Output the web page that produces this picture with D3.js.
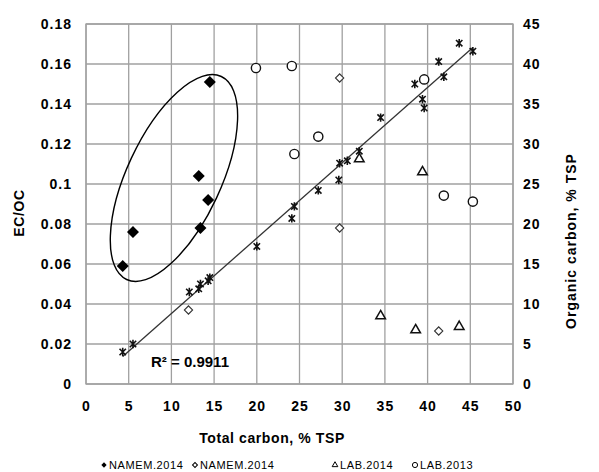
<!DOCTYPE html>
<html>
<head>
<meta charset="utf-8">
<script src="https://cdn.jsdelivr.net/npm/d3@7"></script>
<style>
  body { margin: 0; background: #fff; }
  svg text { font-family: "Liberation Sans", Arial, sans-serif; fill: #000; }
</style>
</head>
<body>
<div id="chart"></div>
<script>
// ticks
const xTicks = [0, 5, 10, 15, 20, 25, 30, 35, 40, 45, 50];
const yLeftTicks = [0, 0.02, 0.04, 0.06, 0.08, 0.1, 0.12, 0.14, 0.16, 0.18];
const yRightTicks = [0, 5, 10, 15, 20, 25, 30, 35, 40, 45];

// EC/OC vs total carbon, [TC, EC/OC]
const namem2014Filled = [[14.5, 0.151], [13.2, 0.104], [14.3, 0.092], [13.4, 0.078], [5.5, 0.076], [4.3, 0.059]];
const namem2014Open = [[29.7, 0.153], [12.0, 0.037], [29.7, 0.078], [41.3, 0.0265]];
const lab2014 = [[32.0, 0.1125], [39.4, 0.106], [34.5, 0.034], [38.6, 0.027], [43.7, 0.0287]];
const lab2013 = [[19.9, 0.158], [24.1, 0.159], [24.4, 0.115], [27.2, 0.1237], [39.6, 0.1523], [41.9, 0.0942], [45.3, 0.0912]];

// organic carbon vs total carbon, [TC, OC]
const ocPoints = [
  [4.3, 4.0], [5.5, 5.0], [12.1, 11.5], [13.2, 11.9], [13.4, 12.5], [14.3, 12.9], [14.5, 13.3],
  [20.0, 17.2], [24.1, 20.7], [24.4, 22.2], [27.2, 24.2], [29.6, 25.5], [29.7, 27.6], [30.6, 27.9],
  [32.0, 29.1], [34.5, 33.3], [38.5, 37.5], [39.4, 35.6], [39.6, 34.5], [41.3, 40.3], [41.9, 38.4],
  [43.7, 42.6], [45.3, 41.6],
];
const r2Label = 'R² = 0.9911';

const legendItems = ['NAMEM.2014', 'NAMEM.2014', 'LAB.2014', 'LAB.2013'];

// plot box
const margin = { top: 24, right: 86, bottom: 88, left: 86 };
const width = 599;
const height = 472;
const innerW = width - margin.left - margin.right;
const innerH = height - margin.top - margin.bottom;

const svg = d3.select('#chart')
  .append('svg')
  .attr('width', width)
  .attr('height', height);

const g = svg.append('g')
  .attr('transform', `translate(${margin.left},${margin.top})`);

const x = d3.scaleLinear().domain([0, 50]).range([0, innerW]);
const yL = d3.scaleLinear().domain([0, 0.18]).range([innerH, 0]);
const yR = d3.scaleLinear().domain([0, 45]).range([innerH, 0]);

const gridColor = '#a0a0a0';

// gridlines
g.append('g')
  .selectAll('line')
  .data(xTicks)
  .join('line')
  .attr('x1', d => x(d)).attr('x2', d => x(d))
  .attr('y1', 0).attr('y2', innerH)
  .attr('stroke', gridColor).attr('stroke-width', 1.3);

g.append('g')
  .selectAll('line')
  .data(yLeftTicks)
  .join('line')
  .attr('x1', 0).attr('x2', innerW)
  .attr('y1', d => yL(d)).attr('y2', d => yL(d))
  .attr('stroke', gridColor).attr('stroke-width', 1.3);

g.append('rect')
  .attr('width', innerW).attr('height', innerH)
  .attr('fill', 'none').attr('stroke', gridColor).attr('stroke-width', 1.3);

// axes (labels only)
const fmt = d => String(+d.toFixed(2));
const tickFont = sel => sel.selectAll('text')
  .attr('font-size', 14).attr('font-weight', 'bold').attr('letter-spacing', 1);

const axB = g.append('g')
  .attr('transform', `translate(0,${innerH})`)
  .call(d3.axisBottom(x).tickValues(xTicks).tickSize(0).tickPadding(17).tickFormat(fmt));
const axL = g.append('g')
  .call(d3.axisLeft(yL).tickValues(yLeftTicks).tickSize(0).tickPadding(14).tickFormat(fmt));
const axR = g.append('g')
  .attr('transform', `translate(${innerW},0)`)
  .call(d3.axisRight(yR).tickValues(yRightTicks).tickSize(0).tickPadding(10).tickFormat(fmt));
[axB, axL, axR].forEach(a => {
  a.select('.domain').remove();
  a.call(tickFont);
});

// axis titles
svg.append('text')
  .attr('x', 272).attr('y', 443)
  .attr('text-anchor', 'middle')
  .attr('font-size', 14).attr('font-weight', 'bold').attr('letter-spacing', 0.6)
  .text('Total carbon, % TSP');

svg.append('text')
  .attr('transform', 'translate(24,213) rotate(-90)')
  .attr('text-anchor', 'middle')
  .attr('font-size', 14).attr('font-weight', 'bold').attr('letter-spacing', 0.6)
  .text('EC/OC');

svg.append('text')
  .attr('transform', 'translate(576,241) rotate(-90)')
  .attr('text-anchor', 'middle')
  .attr('font-size', 14).attr('font-weight', 'bold').attr('letter-spacing', 1)
  .text('Organic carbon, % TSP');

// marker shapes
const diamond = size => d3.symbol().type(d3.symbolSquare).size(size)();
const asterisk = s => `M${-s},${-s}L${s},${s}M${-s},${s}L${s},${-s}M0,${-s - 1}L0,${s + 1}`;

// trend line for OC
const xMean = d3.mean(ocPoints, d => d[0]);
const yMean = d3.mean(ocPoints, d => d[1]);
const slope = d3.sum(ocPoints, d => (d[0] - xMean) * (d[1] - yMean))
  / d3.sum(ocPoints, d => (d[0] - xMean) ** 2);
const intercept = yMean - slope * xMean;
const xExt = d3.extent(ocPoints, d => d[0]);

g.append('line')
  .attr('x1', x(xExt[0])).attr('y1', yR(slope * xExt[0] + intercept))
  .attr('x2', x(xExt[1])).attr('y2', yR(slope * xExt[1] + intercept))
  .attr('stroke', '#333').attr('stroke-width', 1.3);

// OC asterisks
g.append('g')
  .selectAll('path')
  .data(ocPoints)
  .join('path')
  .attr('transform', d => `translate(${x(d[0])},${yR(d[1])})`)
  .attr('d', asterisk(3.2))
  .attr('fill', 'none').attr('stroke', '#111').attr('stroke-width', 1.6);

// ellipse around NAMEM filled diamonds
const ellCx = d3.mean(namem2014Filled, d => x(d[0]));
g.append('ellipse')
  .attr('transform', `translate(${x(10.3)},${yL(0.103)}) rotate(-65)`)
  .attr('rx', 112).attr('ry', 47)
  .attr('fill', 'none').attr('stroke', '#000').attr('stroke-width', 1.4);

// filled diamonds
g.append('g')
  .selectAll('path')
  .data(namem2014Filled)
  .join('path')
  .attr('transform', d => `translate(${x(d[0])},${yL(d[1])}) rotate(45)`)
  .attr('d', diamond(72))
  .attr('fill', '#000');

// open diamonds
g.append('g')
  .selectAll('path')
  .data(namem2014Open)
  .join('path')
  .attr('transform', d => `translate(${x(d[0])},${yL(d[1])}) rotate(45)`)
  .attr('d', diamond(34))
  .attr('fill', '#fff').attr('stroke', '#333').attr('stroke-width', 1.1);

// triangles
g.append('g')
  .selectAll('path')
  .data(lab2014)
  .join('path')
  .attr('transform', d => `translate(${x(d[0])},${yL(d[1])})`)
  .attr('d', d3.symbol().type(d3.symbolTriangle).size(40)())
  .attr('fill', '#fff').attr('stroke', '#111').attr('stroke-width', 1.5);

// circles
g.append('g')
  .selectAll('circle')
  .data(lab2013)
  .join('circle')
  .attr('cx', d => x(d[0])).attr('cy', d => yL(d[1]))
  .attr('r', 4.6)
  .attr('fill', '#fff').attr('stroke', '#111').attr('stroke-width', 1.4);

// R² label
svg.append('text')
  .attr('x', 151).attr('y', 367)
  .attr('font-size', 15).attr('font-weight', 'bold')
  .text(r2Label);

// legend
const legX = [104, 195, 335, 415];
const leg = svg.append('g').attr('transform', 'translate(0,465)');
const legSym = [
  s => s.append('path').attr('d', diamond(14)).attr('transform', 'rotate(45)').attr('fill', '#000'),
  s => s.append('path').attr('d', diamond(12)).attr('transform', 'rotate(45)').attr('fill', 'none').attr('stroke', '#000').attr('stroke-width', 1),
  s => s.append('path').attr('d', d3.symbol().type(d3.symbolTriangle).size(14)()).attr('fill', 'none').attr('stroke', '#000').attr('stroke-width', 1),
  s => s.append('circle').attr('r', 2.6).attr('fill', 'none').attr('stroke', '#000').attr('stroke-width', 1),
];
legendItems.forEach((name, i) => {
  const item = leg.append('g').attr('transform', `translate(${legX[i]},0)`);
  legSym[i](item);
  item.append('text')
    .attr('x', 5).attr('y', 4)
    .attr('font-size', 11).attr('letter-spacing', 0.6)
    .text(name);
});
</script>
</body>
</html>
